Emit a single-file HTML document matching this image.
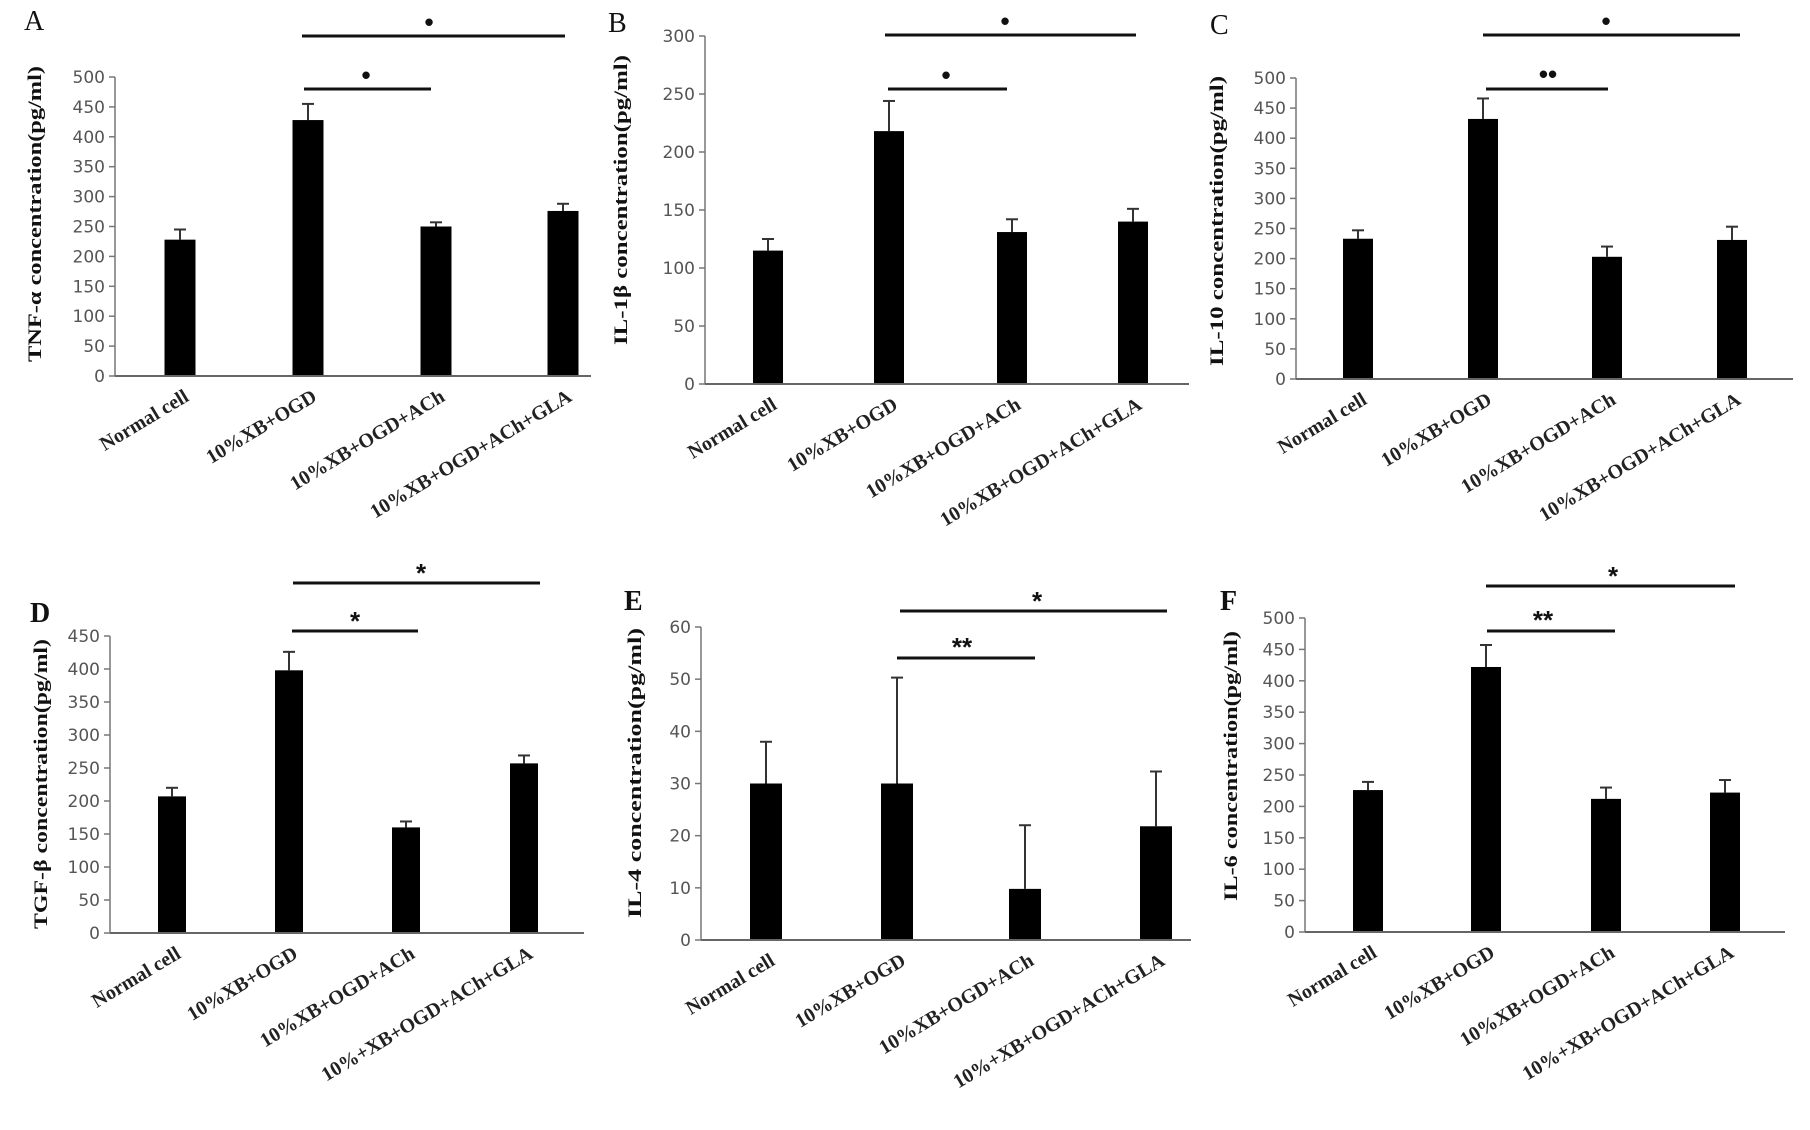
<!DOCTYPE html>
<html><head><meta charset="utf-8"><style>
html,body{margin:0;padding:0;background:#fff;}
svg{display:block;}
.tick{font-family:"DejaVu Sans","Liberation Sans",sans-serif;font-size:17px;fill:#555;}
.cat{font-family:"Liberation Serif",serif;font-weight:bold;font-size:20px;fill:#222;}
.ytitle{font-family:"Liberation Serif",serif;font-weight:bold;font-size:19px;fill:#111;}
.plabel{font-family:"Liberation Serif",serif;font-size:28px;fill:#111;}
.sig{font-family:"Liberation Sans",sans-serif;font-weight:bold;font-size:26px;fill:#111;}
</style></head><body>
<svg id="fig" width="1810" height="1130" viewBox="0 0 1810 1130" xmlns="http://www.w3.org/2000/svg"></svg>
<script>
const categoriesTop = ["Normal cell","10%XB+OGD","10%XB+OGD+ACh","10%XB+OGD+ACh+GLA"];
const categoriesBottom = ["Normal cell","10%XB+OGD","10%XB+OGD+ACh","10%+XB+OGD+ACh+GLA"];
const valuesA = [228, 428, 250, 276];
const errorsA = [17, 27, 7, 12];
const valuesB = [115, 218, 131, 140];
const errorsB = [10, 26, 11, 11];
const valuesC = [233, 432, 203, 231];
const errorsC = [14, 34, 17, 22];
const valuesD = [207, 398, 160, 257];
const errorsD = [13, 28, 9, 12];
const valuesE = [30, 30, 9.8, 21.8];
const errorsE = [8, 20.3, 12.2, 10.5];
const valuesF = [226, 422, 212, 222];
const errorsF = [13, 35, 18, 20];
const ticksA = [0,50,100,150,200,250,300,350,400,450,500];
const ticksB = [0,50,100,150,200,250,300];
const ticksC = [0,50,100,150,200,250,300,350,400,450,500];
const ticksD = [0,50,100,150,200,250,300,350,400,450];
const ticksE = [0,10,20,30,40,50,60];
const ticksF = [0,50,100,150,200,250,300,350,400,450,500];

const NS = "http://www.w3.org/2000/svg";
const svg = document.getElementById("fig");
function mk(tag, attrs, parent){
  const e = document.createElementNS(NS, tag);
  for (const k in attrs) e.setAttribute(k, attrs[k]);
  (parent||svg).appendChild(e);
  return e;
}

const layouts = [
 {id:"a", letter:"A", bold:false, lx:24, ly:30, ax:115, y0:376, yTop:77, xEnd:591, centers:[180,308,436,563], bw:31,
  title:"TNF-α concentration(pg/ml)", tx:34, ty:214, tlen:296,
  sig:[{y:36,x1:302,x2:565,sx:429,sy:31,t:"•"},{y:89,x1:304,x2:431,sx:366,sy:84,t:"•"}],
  vals:valuesA, errs:errorsA, ticks:ticksA, cats:categoriesTop},
 {id:"b", letter:"B", bold:false, lx:608, ly:32, ax:705, y0:384, yTop:36, xEnd:1189, centers:[768,889,1012,1133], bw:30,
  title:"IL-1β concentration(pg/ml)", tx:620, ty:200, tlen:290,
  sig:[{y:35,x1:885,x2:1136,sx:1005,sy:30,t:"•"},{y:89,x1:888,x2:1007,sx:946,sy:84,t:"•"}],
  vals:valuesB, errs:errorsB, ticks:ticksB, cats:categoriesTop},
 {id:"c", letter:"C", bold:false, lx:1210, ly:34, ax:1296, y0:379, yTop:78, xEnd:1793, centers:[1358,1483,1607,1732], bw:30,
  title:"IL-10 concentration(pg/ml)", tx:1216, ty:221, tlen:290,
  sig:[{y:35,x1:1483,x2:1740,sx:1606,sy:30,t:"•"},{y:89,x1:1486,x2:1608,sx:1548,sy:83,t:"••"}],
  vals:valuesC, errs:errorsC, ticks:ticksC, cats:categoriesTop},
 {id:"d", letter:"D", bold:true, lx:30, ly:622, ax:110, y0:933, yTop:636, xEnd:584, centers:[172,289,406,524], bw:28,
  title:"TGF-β concentration(pg/ml)", tx:40, ty:784, tlen:290,
  sig:[{y:583,x1:293,x2:540,sx:421,sy:578,t:"*"},{y:631,x1:292,x2:418,sx:355,sy:626,t:"*"}],
  vals:valuesD, errs:errorsD, ticks:ticksD, cats:categoriesBottom},
 {id:"e", letter:"E", bold:true, lx:624, ly:610, ax:701, y0:940, yTop:627, xEnd:1191, centers:[766,897,1025,1156], bw:32,
  title:"IL-4 concentration(pg/ml)", tx:634, ty:773, tlen:290,
  sig:[{y:611,x1:900,x2:1167,sx:1037,sy:606,t:"*"},{y:658,x1:897,x2:1035,sx:962,sy:652,t:"**"}],
  vals:valuesE, errs:errorsE, ticks:ticksE, cats:categoriesBottom},
 {id:"f", letter:"F", bold:true, lx:1220, ly:610, ax:1305, y0:932, yTop:618, xEnd:1785, centers:[1368,1486,1606,1725], bw:30,
  title:"IL-6 concentration(pg/ml)", tx:1230, ty:766, tlen:270,
  sig:[{y:586,x1:1486,x2:1735,sx:1613,sy:581,t:"*"},{y:631,x1:1487,x2:1615,sx:1543,sy:625,t:"**"}],
  vals:valuesF, errs:errorsF, ticks:ticksF, cats:categoriesBottom}
];

layouts.forEach(p => {
  const g = mk("g", {});
  
  
  const maxV = p.ticks[p.ticks.length-1];
  const yScale = v => p.y0 - (v / maxV) * (p.y0 - p.yTop);

  const lt = mk("text", {x:p.lx, y:p.ly, class:"plabel", "font-weight": p.bold ? "bold":"normal"}, g);
  lt.textContent = p.letter;
  
  

  const yt = mk("text", {x:0, y:0, class:"ytitle", "text-anchor":"middle", textLength:p.tlen, lengthAdjust:"spacingAndGlyphs",
    transform:`translate(${p.tx+7},${p.ty}) rotate(-90)`}, g);
  yt.textContent = p.title;
  
  

  p.ticks.forEach(t => {
    const y = yScale(t);
    const tk = mk("line", {x1:p.ax-6, x2:p.ax, y1:y, y2:y, stroke:"#777", "stroke-width":1.5}, g);
    
    
    const tl = mk("text", {x:p.ax-10, y:y+6, class:"tick", "text-anchor":"end"}, g);
    tl.textContent = t;
    
    
  });

  const yax = mk("line", {x1:p.ax, x2:p.ax, y1:p.yTop, y2:p.y0, stroke:"#777", "stroke-width":1.5}, g);
  
  

  p.vals.forEach((v, i) => {
    const cx = p.centers[i];
    const top = yScale(v);
    const eTop = yScale(v + p.errs[i]);
    const el = mk("line", {x1:cx, x2:cx, y1:top, y2:eTop, stroke:"#333", "stroke-width":2}, g);
    
    
    const ec = mk("line", {x1:cx-6, x2:cx+6, y1:eTop, y2:eTop, stroke:"#333", "stroke-width":2}, g);
    
    
    const r = mk("rect", {x:cx - p.bw/2, y:top, width:p.bw, height:p.y0 - top, fill:"#000"}, g);
    
    
    const cl = mk("text", {x:0, y:0, class:"cat", "text-anchor":"end",
      transform:`translate(${cx+10},${p.y0+24}) rotate(-31)`}, g);
    cl.textContent = p.cats[i];
    
    
  });

  const xax = mk("line", {x1:p.ax, x2:p.xEnd, y1:p.y0, y2:p.y0, stroke:"#666", "stroke-width":2}, g);
  
  

  p.sig.forEach(s => {
    const sl = mk("line", {x1:s.x1, x2:s.x2, y1:s.y, y2:s.y, stroke:"#111", "stroke-width":3}, g);
    
    
    const st = mk("text", {x:s.sx, y:s.t.indexOf("*")>=0 ? s.sy+4 : s.sy, class:"sig", "text-anchor":"middle"}, g);
    st.textContent = s.t;
    
    
  });
});
</script>
</body></html>
